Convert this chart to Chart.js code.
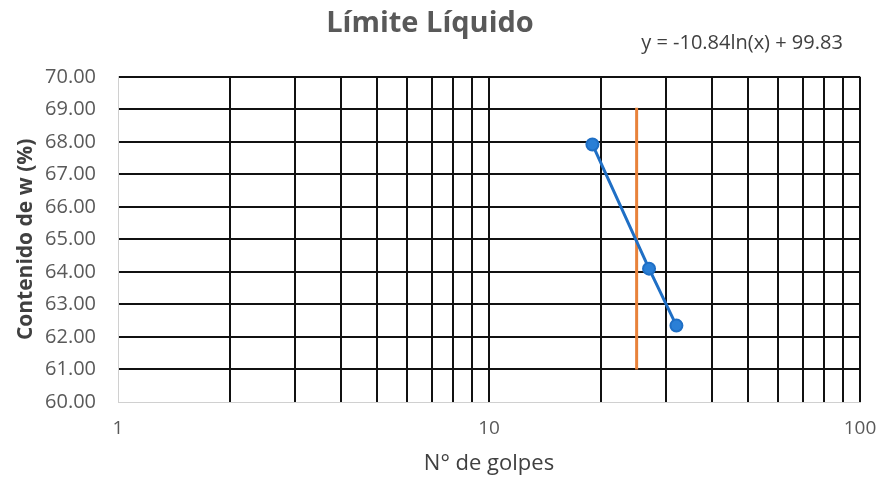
<!DOCTYPE html>
<html>
<head>
<meta charset="utf-8">
<script src="https://cdn.jsdelivr.net/npm/chart.js@4.4.1/dist/chart.umd.min.js"></script>
<style>
  html, body { margin: 0; padding: 0; background: #fff; }
  #wrap { width: 883px; height: 479px; }
</style>
</head>
<body>
<div id="wrap"><canvas id="llChart" width="883" height="479"></canvas></div>
<script>
// --- DATA ---
const golpes = [19, 27, 32];
const humedad = [67.92, 64.1, 62.35];
const lineaX = [25, 25];
const lineaY = [61.0, 69.05];
const xTicks = [1, 2, 3, 4, 5, 6, 7, 8, 9, 10, 20, 30, 40, 50, 60, 70, 80, 90, 100];
const xLabels = [1, 10, 100];
const titulo = 'Límite Líquido';
const ecuacion = 'y = -10.84ln(x) + 99.83';

const FONT = "'Open Sans', sans-serif";
const GRIS = '#595959';

// ecuación de tendencia (texto arriba a la derecha)
const ecuacionPlugin = {
    id: 'ecuacion',
    afterDraw(chart) {
        const ctx = chart.ctx;
        ctx.save();
        ctx.font = `20px ${FONT}`;
        ctx.fillStyle = '#404040';
        ctx.textAlign = 'center';
        ctx.textBaseline = 'middle';
        ctx.fillText(ecuacion, 742, 43);
        ctx.restore();
    }
};

new Chart(document.getElementById('llChart'), {
    type: 'scatter',
    data: {
        datasets: [
            {
                label: 'w',
                data: golpes.map((g, i) => ({ x: g, y: humedad[i] })),
                showLine: true,
                borderColor: '#1f6fc5',
                backgroundColor: '#2a7fd6',
                borderWidth: 3,
                pointRadius: 6,
                pointBorderWidth: 2,
                pointBorderColor: '#1f6fc5'
            },
            {
                label: '25 golpes',
                data: lineaX.map((x, i) => ({ x: x, y: lineaY[i] })),
                showLine: true,
                borderColor: '#e8823a',
                borderWidth: 3,
                pointRadius: 0
            }
        ]
    },
    options: {
        responsive: false,
        animation: false,
        layout: { padding: { left: 0, right: 23, top: 0, bottom: 0 } },
        plugins: {
            legend: { display: false },
            tooltip: { enabled: false },
            title: {
                display: true,
                text: titulo,
                color: GRIS,
                font: { family: FONT, size: 29, weight: 'bold' },
                padding: { top: 6, bottom: 36 }
            }
        },
        scales: {
            x: {
                type: 'logarithmic',
                min: 1,
                max: 100,
                afterBuildTicks: (scale) => { scale.ticks = xTicks.map(v => ({ value: v })); },
                afterFit: (scale) => { scale.height = 77; scale.paddingRight = 8; },
                grid: {
                    color: (c) => c.tick && c.tick.value === 1 ? '#d0d0d0' : '#111',
                    lineWidth: (c) => c.tick && c.tick.value === 1 ? 1 : 2,
                    drawTicks: false
                },
                border: { color: '#d0d0d0', width: 1 },
                ticks: {
                    autoSkip: false,
                    maxRotation: 0,
                    padding: 15,
                    color: GRIS,
                    font: { family: FONT, size: 19 },
                    callback: (v) => xLabels.includes(v) ? String(v) : ''
                },
                title: {
                    display: true,
                    text: 'N° de golpes',
                    color: '#404040',
                    font: { family: FONT, size: 22 },
                    padding: { top: 4, bottom: 2 }
                }
            },
            y: {
                min: 60,
                max: 70,
                afterFit: (scale) => { scale.width = 118; },
                grid: {
                    color: (c) => c.tick && c.tick.value === 60 ? '#d0d0d0' : '#111',
                    lineWidth: (c) => c.tick && c.tick.value === 60 ? 1 : 2,
                    drawTicks: false
                },
                border: { color: '#d0d0d0', width: 1 },
                ticks: {
                    stepSize: 1,
                    padding: 22,
                    color: GRIS,
                    font: { family: FONT, size: 20 },
                    callback: (v) => v.toFixed(2)
                },
                title: {
                    display: true,
                    text: 'Contenido de w (%)',
                    color: '#404040',
                    font: { family: FONT, size: 21, weight: 'bold' },
                    padding: { top: 13, bottom: 0 }
                }
            }
        }
    },
    plugins: [ecuacionPlugin]
});
</script>
</body>
</html>
